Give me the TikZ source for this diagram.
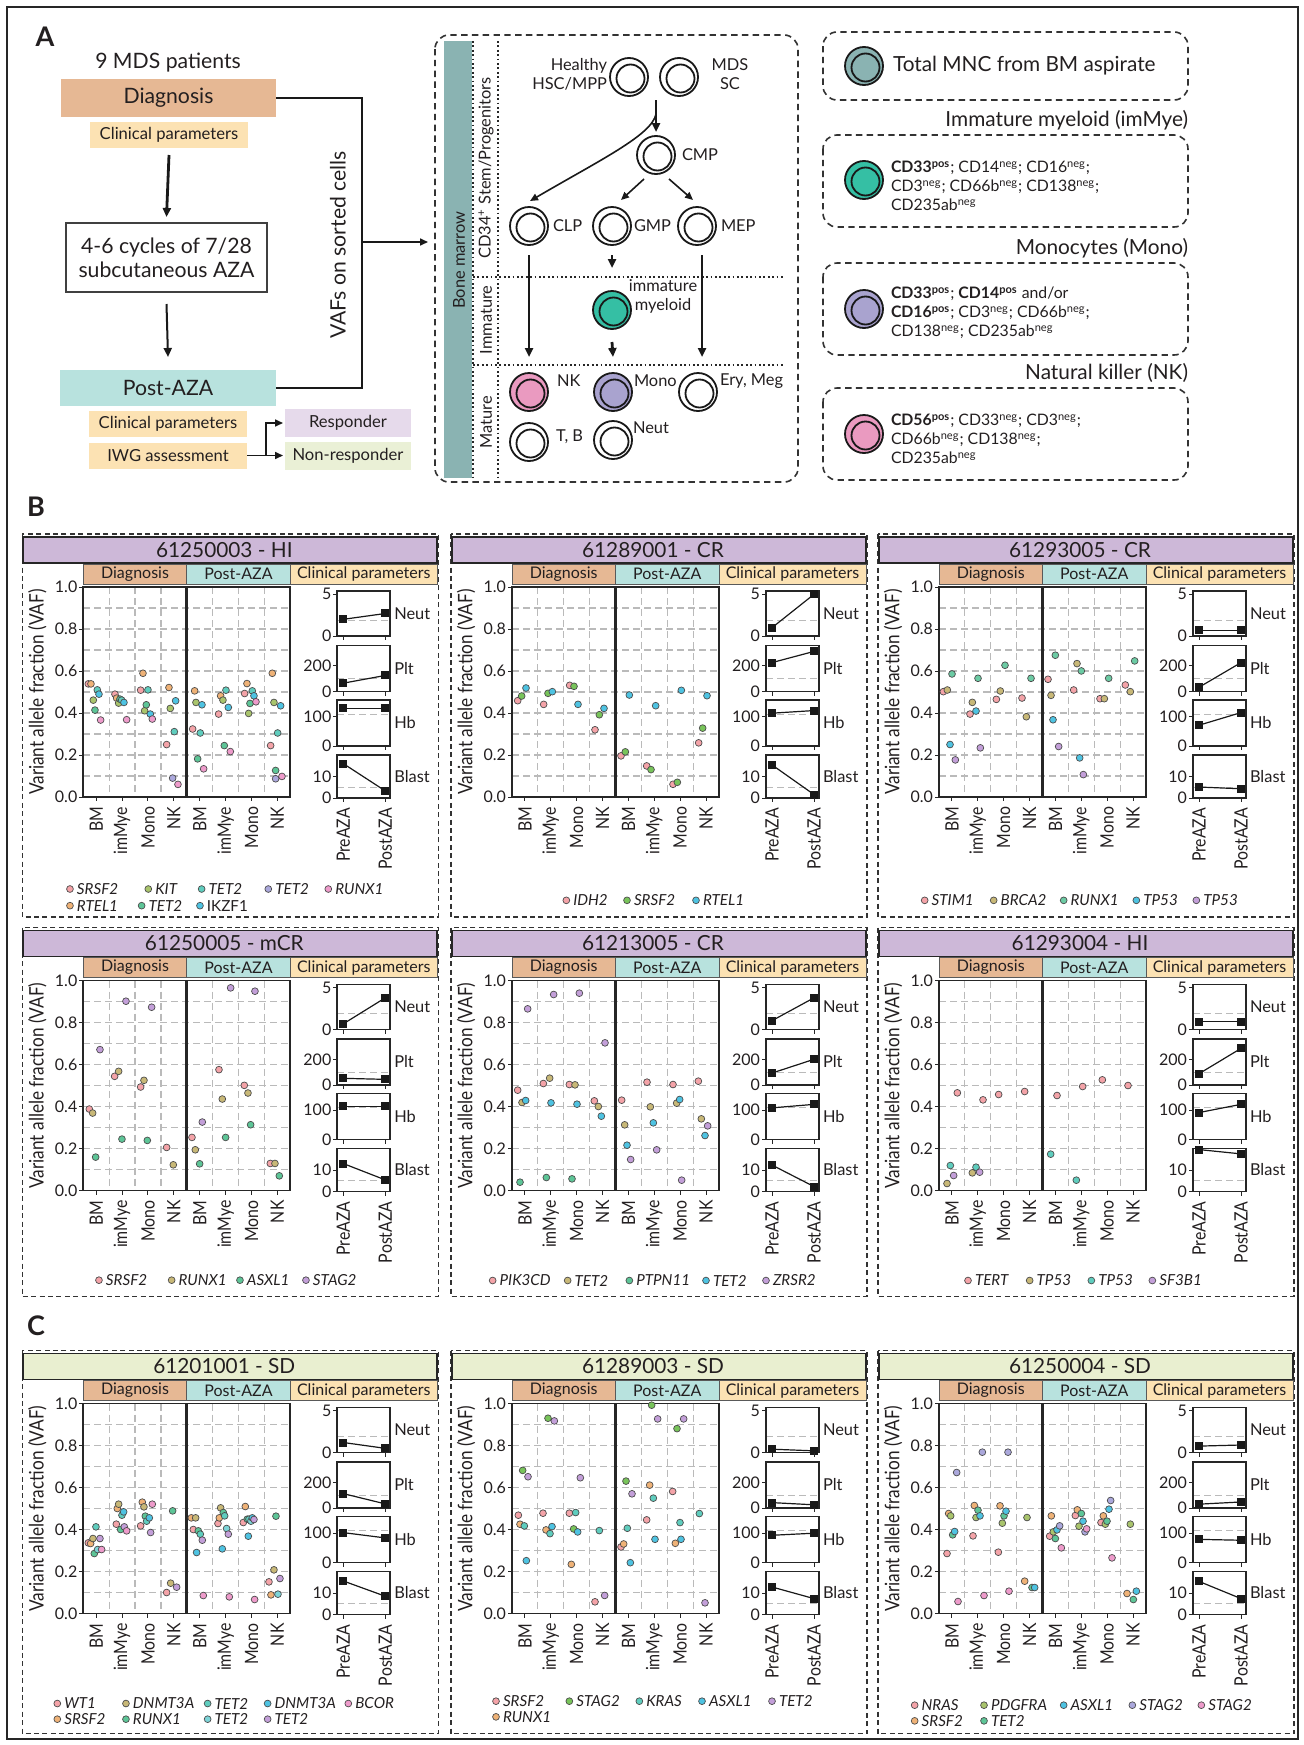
\documentclass[tikz,border=0pt]{standalone}
\usepackage{fontspec}
\setmainfont{Lato}
\usepackage{graphicx}
\usetikzlibrary{arrows.meta,calc}

\definecolor{txt}{HTML}{231F20}
\definecolor{diagC}{HTML}{E6B894}
\definecolor{postC}{HTML}{B8E2DE}
\definecolor{clinC}{HTML}{FCE2B3}
\definecolor{respC}{HTML}{E6DAEB}
\definecolor{nonrC}{HTML}{EAF0D6}
\definecolor{respT}{HTML}{CDB8D8}
\definecolor{nonrT}{HTML}{E9EFD0}
\definecolor{bmC}{HTML}{8AB3B2}
\definecolor{immC}{HTML}{35BFA4}
\definecolor{monoC}{HTML}{A9A3CF}
\definecolor{nkC}{HTML}{EA9AC0}
% gene colours
\definecolor{cSr}{HTML}{F4A3A8}
\definecolor{cOr}{HTML}{EFB277}
\definecolor{cOl}{HTML}{A9C46C}
\definecolor{cTa}{HTML}{C8B877}
\definecolor{cGr}{HTML}{5DC597}
\definecolor{cLg}{HTML}{78C45A}
\definecolor{cTe}{HTML}{5FCDBE}
\definecolor{cTl}{HTML}{7DD4D8}
\definecolor{cCy}{HTML}{4EC3E2}
\definecolor{cLv}{HTML}{C39FD9}
\definecolor{cLb}{HTML}{ABA8DC}
\definecolor{cMg}{HTML}{EE9BCB}
\definecolor{cRu}{HTML}{6CCBA4}

\newcommand\fsLbl{\fontsize{13.5}{14}\bfseries\selectfont}
\newcommand\fsA{\fontsize{10.6}{12}\selectfont}
\newcommand\fsAs{\fontsize{8.3}{10}\selectfont}
\newcommand\fsM{\fontsize{8.2}{9.5}\selectfont}
\newcommand\fsH{\fontsize{10.4}{12}\selectfont}
\newcommand\fsMk{\fontsize{7.9}{9.5}\selectfont}
\newcommand\fsTitle{\fontsize{10.4}{12}\selectfont}
\newcommand\fsStrip{\fontsize{8}{9}\selectfont}
\newcommand\fsTick{\fontsize{8}{9}\selectfont}
\newcommand\fsCat{\fontsize{9.2}{10}\selectfont}
\newcommand\fsYlab{\fontsize{10}{11}\selectfont}
\newcommand\fsClin{\fontsize{8.2}{9}\selectfont}
\newcommand\fsLeg{\fontsize{7.6}{9}\selectfont}
\newcommand\vsq[1]{\scalebox{0.86}[1]{#1}}
\newcommand\sneg{\textsuperscript{neg}}
\newcommand\spos{\textsuperscript{\bfseries pos}}

\tikzset{
  every node/.style={inner sep=0pt, outer sep=0pt, text=txt},
  pbox/.style={draw=black!80, line width=0.8pt, dash pattern=on 2.5pt off 1.7pt},
  rbox/.style={draw=black!80, line width=0.8pt, dash pattern=on 3.2pt off 2.2pt, rounded corners=7pt},
  gridl/.style={draw=black!27, line width=0.6pt, dash pattern=on 3.5pt off 2pt},
  frame/.style={draw=black!85, line width=0.9pt},
  strip/.style={draw=black!65, line width=0.5pt},
  tickl/.style={draw=black!85, line width=0.5pt},
  dotl/.style={draw=black!85, line width=0.7pt, dash pattern=on 0.9pt off 1.3pt},
  arrthick/.style={draw=black!90, line width=1.4pt, -{Triangle[length=4.5pt,width=4pt]}},
  arrmid/.style={draw=black!90, line width=1pt, -{Triangle[length=4.5pt,width=4pt]}},
  arrthin/.style={draw=black!90, line width=0.8pt, -{Triangle[length=4pt,width=3.5pt]}},
  conn/.style={draw=black!90, line width=0.9pt},
  cellc/.style={circle, draw=black!90, line width=0.9pt, minimum size=19pt},
}

% double-circle cell
\newcommand\cell[4]{\node[cellc, fill=#4] (#1) at (#2,#3) {};
  \draw[black!90, line width=0.9pt] ($(#1.center)+(1.5,1.5)$) circle[radius=14];}

% zoom-to-local transform
\newcommand\setz[3]{\def\zl{#1}\def\zt{#2}\def\zb{#3}}
\newcommand\vdot[3]{\filldraw[fill=#3, draw=black!70, line width=0.35pt]
  ({(#1-\zl)/3},{(#2-\zt)/(\zb-\zt)*210}) circle[radius=3.4];}
\newcommand\lgd[5]{\filldraw[fill=#3, draw=black!70, line width=0.35pt]
  ({(#1-\zl)/3},{(#2-\zt)/3}) circle[radius=3.4];
  \node[anchor=west, font=\fsLeg] (#5-lg-#1-#2) at ({(#1-\zl)/3+7},{(#2-\zt)/3}) {\itshape #4};}

% frame of a VAF panel (local origin = top-left of scatter plot)
\newcommand\vafframe[4]{%
  \draw[pbox] (-61,-53) rectangle (355,#4);
  \draw[fill=#3, draw=black!85, line width=0.9pt] (-60,-50) rectangle (354,-24);
  \node[font=\fsTitle] (#1-title) at (141,-37) {#2};
  \draw[strip, fill=diagC] (0,-23) rectangle (103.5,-3);
  \draw[strip, fill=postC] (103.5,-23) rectangle (207,-3);
  \draw[strip, fill=clinC] (207,-23) rectangle (354,-3);
  \node[font=\fsStrip] (#1-sd) at (51.75,-13) {Diagnosis};
  \node[font=\fsStrip] (#1-sp) at (155.25,-13) {Post-AZA};
  \node[font=\fsStrip] (#1-sc) at (280.5,-13) {Clinical parameters};
  \foreach \v in {1,...,9} \draw[gridl] (0,21*\v) -- (207,21*\v);
  \foreach \k in {1,2,3,5,6,7} \draw[gridl] (25.875*\k,0) -- (25.875*\k,210);
  \draw[frame] (0,0) rectangle (207,210);
  \draw[line width=1.4pt, black!85] (103.5,0) -- (103.5,210);
  \foreach \v/\l in {0/0.0,1/0.2,2/0.4,3/0.6,4/0.8,5/1.0} {
    \draw[tickl] (-4,210-42*\v) -- (0,210-42*\v);
    \node[anchor=east, font=\fsTick] (#1-y\v) at (-6,210-42*\v) {\l};}
  \foreach \cat [count=\ii from 0] in {BM,imMye,Mono,NK,BM,imMye,Mono,NK} {
    \draw[tickl] (25.875*\ii+12.94,210) -- (25.875*\ii+12.94,214);
    \node[rotate=90, anchor=east, font=\fsCat] (#1-c\ii) at (25.875*\ii+12.94,220) {\vsq{\cat}};}
  \node[rotate=90, font=\fsYlab] (#1-ylab) at (-46,105) {\vsq{Variant allele fraction (VAF)}};
  \node[rotate=90, anchor=east, font=\fsCat] (#1-pre) at (260,221) {\vsq{PreAZA}};
  \node[rotate=90, anchor=east, font=\fsCat] (#1-post) at (302,221) {\vsq{PostAZA}};
}

% one small clinical plot: id, top, bottom, scale, pre, post, ref, label, tick
\newcommand\clinbox[9]{%
  \draw[gridl] (254,{#3-#7*#4}) -- (307,{#3-#7*#4});
  \draw[line width=0.6pt, black!90] (260,{#3-#5*#4}) -- (302,{#3-#6*#4});
  \draw[frame] (254,#2) rectangle (307,#3);
  \fill[black!90] (260,{#3-#5*#4}) ++(-4,-4) rectangle ++(8,8);
  \fill[black!90] (302,{#3-#6*#4}) ++(-4,-4) rectangle ++(8,8);
  \draw[tickl] (250,#3) -- (254,#3);
  \draw[tickl] (250,{#3-#9*#4}) -- (254,{#3-#9*#4});
  \draw[tickl] (260,#3) -- (260,#3+4);
  \draw[tickl] (302,#3) -- (302,#3+4);
  \node[anchor=east,font=\fsTick] (#1-0) at (248,#3) {0};
  \node[anchor=east,font=\fsTick] (#1-t) at (248,{#3-#9*#4}) {#9};
  \node[anchor=west,font=\fsClin] (#1-l) at (311,{(#2+#3)/2}) {#8};
}
\newcommand\clinset[9]{% id, n1,n2,p1,p2,h1,h2,b1,b2
  \clinbox{#1n}{4}{49}{8.34}{#2}{#3}{1.9}{Neut}{5}
  \clinbox{#1p}{58.5}{104.5}{0.1285}{#4}{#5}{100}{Plt}{200}
  \clinbox{#1h}{113}{159}{0.293}{#6}{#7}{108}{Hb}{100}
  \clinbox{#1b}{168}{211}{2.15}{#8}{#9}{5}{Blast}{10}
}

\begin{document}
\begin{tikzpicture}[x=0.5pt,y=-0.5pt]
\useasboundingbox[fill=white] (0,0) rectangle (1304,1745);
\draw[black!85, line width=0.6pt] (7,7) rectangle (1298,1739);

%================ PANEL A left =================
\node[font=\fsLbl] (lblA) at (45,37) {A};
\node[font=\fsA] (mds9) at (168,63) {9 MDS patients};
\node[fill=diagC, minimum width=107.5pt, minimum height=19pt, font=\fsA] (diag) at (168.5,98) {Diagnosis};
\node[fill=clinC, minimum width=79pt, minimum height=13pt, font=\fsAs] (clin1) at (169,135) {Clinical parameters};
\node[draw=black!75, line width=0.7pt, minimum width=100.5pt, minimum height=34.5pt, align=center, font=\fsA] (cyc) at (166.5,257.5) {4-6 cycles of 7/28\\subcutaneous AZA};
\node[fill=postC, minimum width=108pt, minimum height=18pt, font=\fsA] (post) at (168,388) {Post-AZA};
\node[fill=clinC, minimum width=79pt, minimum height=13pt, font=\fsAs] (clin2) at (168,424) {Clinical parameters};
\node[fill=clinC, minimum width=79pt, minimum height=13pt, font=\fsAs] (iwg) at (168,455.5) {IWG assessment};
\node[fill=respC, minimum width=63pt, minimum height=14pt, font=\fsAs] (resp) at (348,423) {Responder};
\node[fill=nonrC, minimum width=63pt, minimum height=14pt, font=\fsAs] (nonr) at (348,455.5) {Non-responder};
\draw[arrthick] ($(clin1.south)+(0,7)$) -- ($(cyc.north)+(0,-6)$);
\draw[arrmid] ($(cyc.south)+(0,12)$) -- ($(post.north)+(0,-13)$);
\draw[arrthin] (iwg.east) -- ($(nonr.west)+(-2,0)$);
\coordinate (rsplit) at ($(iwg.east)!0.5!(nonr.west)$);
\draw[arrthin] (rsplit) |- ($(resp.west)+(-2,0)$);
\coordinate (vafj) at (362,242);
\draw[conn] (diag.east) -| (vafj) |- (post.east);
\coordinate (vafend) at (428,242);
\draw[arrthin] (vafj) -- (vafend);
\node[rotate=90, font=\fsA] (vaft) at (338,245) {VAFs on sorted cells};

%================ PANEL A middle =================
\draw[rbox] (435,35) rectangle (798,482);
\fill[bmC] (444,41) rectangle (472,478);
\node[rotate=90, font=\fsM] (bmlab) at (459,260) {Bone marrow};
\draw[dotl] (473,41) -- (473,478);
\draw[dotl] (498,41) -- (498,478);
\draw[dotl] (473,277) -- (783,277);
\draw[dotl] (473,365) -- (783,365);
\node[rotate=90, font=\fsM] (stemlab) at (486,168) {CD34\textsuperscript{+} Stem/Progenitors};
\node[rotate=90, font=\fsM] (immlab) at (486,320) {Immature};
\node[rotate=90, font=\fsM] (matlab) at (486,422) {Mature};

\cell{healthy}{629}{77}{white}
\cell{mdssc}{679}{77}{white}
\cell{cmp}{656}{155}{white}
\cell{clp}{529}{226}{white}
\cell{gmp}{612}{226}{white}
\cell{mep}{697}{226}{white}
\cell{imm}{612}{310}{immC}
\cell{nk}{529}{392}{nkC}
\cell{mono}{613}{392}{monoC}
\cell{ery}{698}{392}{white}
\cell{tb}{529}{442}{white}
\cell{neut}{613}{440}{white}

\node[anchor=east, align=right, font=\fsM] (hlab) at (607,74.5) {Healthy\\HSC/MPP};
\node[align=center, font=\fsM] (mlab) at (730,74.5) {MDS\\SC};
\node[anchor=west, font=\fsM] (cmplab) at (682,155) {CMP};
\node[anchor=west, font=\fsM] (clplab) at (553,226) {CLP};
\node[anchor=west, font=\fsM] (gmplab) at (634,226) {GMP};
\node[anchor=west, font=\fsM] (meplab) at (721,226) {MEP};
\node[align=center, font=\fsM] (immclab) at (663,296.5) {immature\\myeloid};
\node[anchor=west, font=\fsM] (nklab) at (557,381) {NK};
\node[anchor=west, font=\fsM] (monolab) at (634,381) {Mono};
\node[anchor=west, font=\fsM] (erylab) at (720,381) {Ery, Meg};
\node[anchor=west, font=\fsM] (tblab) at (556,437) {T, B};
\node[anchor=west, font=\fsM] (neutlab) at (633,428) {Neut};

\coordinate (hsplit) at (656,100);
\draw[arrthick] (hsplit) -- ($(cmp.north)+(0,-4)$);
\draw[arrthin] (656,114) .. controls (652,135) and (600,160) .. ($(clp.north)+(1,-6)$);
\draw[arrthin] ($(cmp)+(-12,24)$) -- ($(gmp)+(9,-26)$);
\draw[arrthin] ($(cmp)+(13,24)$) -- ($(mep)+(-4,-26)$);
\draw[arrthick] ($(clp)+(0,29)$) -- ($(nk)+(0,-35)$);
\draw[arrthick] ($(gmp)+(0,29)$) -- ($(imm)+(0,-42)$);
\draw[arrthick] ($(imm)+(0,32)$) -- ($(mono)+(0,-35)$);
\draw[arrthick] ($(mep)+(5,29)$) -- ($(ery)+(4,-35)$);

%================ PANEL A right =================
\draw[rbox] (823,32) rectangle (1188,100);
\cell{mnc}{864}{66}{bmC}
\node[anchor=west, font=\fsH] (mnclab) at (893,66) {Total MNC from BM aspirate};
\node[anchor=east, font=\fsH] (h2) at (1188,120) {Immature myeloid (imMye)};
\draw[rbox] (823,135) rectangle (1188,227);
\cell{immk}{864}{180}{immC}
\node[anchor=west, align=left, font=\fsMk] (mk2) at (891,186) {{\bfseries CD33}\spos; CD14\sneg; CD16\sneg;\\CD3\sneg; CD66b\sneg; CD138\sneg;\\CD235ab\sneg};
\node[anchor=east, font=\fsH] (h3) at (1188,248) {Monocytes (Mono)};
\draw[rbox] (823,263) rectangle (1188,355);
\cell{monok}{864}{309}{monoC}
\node[anchor=west, align=left, font=\fsMk] (mk3) at (891,313) {{\bfseries CD33}\spos; {\bfseries CD14}\spos{} and/or\\{\bfseries CD16}\spos; CD3\sneg; CD66b\sneg;\\CD138\sneg; CD235ab\sneg};
\node[anchor=east, font=\fsH] (h4) at (1188,373) {Natural killer (NK)};
\draw[rbox] (823,388) rectangle (1188,480);
\cell{nkk}{864}{434}{nkC}
\node[anchor=west, align=left, font=\fsMk] (mk4) at (891,439) {{\bfseries CD56}\spos; CD33\sneg; CD3\sneg;\\CD66b\sneg; CD138\sneg;\\CD235ab\sneg};

\node[font=\fsLbl] (lblB) at (36,507) {B};
\node[font=\fsLbl] (lblC) at (36,1326) {C};

%================ P1 =================
\begin{scope}[shift={(83.3,587)}]
\vafframe{P1}{61250003 - HI}{respT}{330}
\clinset{P1}{2.0}{2.7}{65}{125}{129}{129}{16}{3.3}
\setz{190}{172}{805}
\foreach \x/\y/\cc in {205/464/cSr,213/464/cOr,220/513/cOl,225/543/cGr,232/482/cTe,237/495/cCy,242/573/cMg,
285/495/cSr,290/507/cOr,296/522/cOl,300/510/cGr,305/513/cTe,312/520/cCy,320/572/cMg,
362/483/cSr,369/432/cOr,374/545/cOl,379/527/cGr,384/482/cTe,391/555/cCy,397/570/cMg,
440/647/cSr,447/475/cOr,451/538/cOl,458/748/cLb,463/608/cTe,467/515/cCy,474/767/cMg,
518/600/cSr,524/485/cOr,528/520/cOl,533/690/cGr,541/612/cTe,546/527/cCy,551/720/cMg,
596/555/cSr,602/500/cOr,609/513/cOl,613/650/cGr,618/483/cTe,625/535/cCy,631/668/cMg,
674/493/cSr,681/463/cOr,686/553/cOl,690/523/cGr,697/485/cTe,702/500/cCy,708/518/cMg,
752/650/cSr,757/432/cOr,762/520/cOl,767/725/cGr,767/750/cLb,773/612/cTe,782/530/cCy,786/743/cMg}
 {\vdot{\x}{\y}{\cc}}
\foreach \x/\y/\cc/\lab in {150/1078/cSr/SRSF2,385/1078/cOl/KIT,545/1078/cTe/TET2,745/1078/cLb/TET2,925/1078/cMg/RUNX1,
150/1128/cOr/RTEL1,365/1128/cGr/TET2,540/1128/cCy/{\upshape IKZF1}}
 {\lgd{\x}{\y}{\cc}{\lab}{P1}}
\end{scope}

%================ P2 =================
\begin{scope}[shift={(512,587)}]
\vafframe{P2}{61289001 - CR}{respT}{330}
\clinset{P2}{1.0}{5.0}{225}{312}{112}{121}{15.4}{1.6}
\setz{200}{170}{798}
\foreach \x/\y/\cc in {217/510/cSr,229/496/cLg,242/472/cCy,
295/521/cSr,308/488/cLg,321/483/cCy,
373/464/cSr,386/467/cLg,398/521/cCy,
449/597/cSr,462/552/cLg,476/533/cCy,
527/675/cSr,540/663/cLg,552/493/cCy,
604/705/cSr,617/716/cLg,631/525/cCy,
683/760/cSr,696/754/cLg,708/479/cCy,
760/636/cSr,772/592/cLg,785/495/cCy}
 {\vdot{\x}{\y}{\cc}}
\foreach \x/\y/\cc/\lab in {363/1110/cSr/IDH2,545/1110/cLg/SRSF2,752/1110/cCy/RTEL1}
 {\lgd{\x}{\y}{\cc}{\lab}{P2}}
\end{scope}

%================ P3 =================
\begin{scope}[shift={(939,587)}]
\vafframe{P3}{61293005 - CR}{respT}{330}
\clinset{P3}{0.68}{0.68}{33}{225}{71}{114}{5.1}{4.3}
\setz{198}{170}{798}
\foreach \x/\y/\cc in {211/483/cSr,223/478/cTa,237/430/cRu,231/641/cCy,247/687/cLv,
291/550/cSr,298/515/cTa,315/443/cRu,309/541/cCy,322/651/cLv,
370/506/cSr,382/481/cTa,396/404/cRu,
447/502/cSr,460/558/cTa,474/443/cRu,
525/446/cSr,534/494/cTa,547/374/cRu,540/567/cCy,557/647/cLv,
602/478/cSr,612/399/cTa,625/421/cRu,620/681/cCy,631/731/cLv,
681/504/cSr,694/504/cTa,707/443/cRu,
757/463/cSr,772/483/cTa,785/391/cRu}
 {\vdot{\x}{\y}{\cc}}
\foreach \x/\y/\cc/\lab in {155/1110/cSr/STIM1,362/1110/cTa/BRCA2,572/1110/cRu/RUNX1,790/1110/cCy/TP53,970/1110/cLv/TP53}
 {\lgd{\x}{\y}{\cc}{\lab}{P3}}
\end{scope}

%================ P4 =================
\begin{scope}[shift={(83.3,980.5)}]
\vafframe{P4}{61250005 - mCR}{respT}{316}
\clinset{P4}{0.68}{3.8}{52}{44}{113}{113}{13}{5.4}
\setz{190}{183}{812}
\foreach \x/\y/\cc in {208/568/cSr,218/580/cTa,227/712/cGr,240/390/cLv,
284/470/cSr,296/455/cTa,306/658/cGr,318/245/cLv,
362/502/cSr,372/482/cTa,382/662/cGr,395/263/cLv,
440/683/cSr,460/735/cTa,
516/653/cSr,526/690/cTa,539/732/cGr,547/607/cLv,
597/450/cSr,607/538/cTa,617/653/cGr,632/205/cLv,
673/497/cSr,684/520/cTa,692/615/cGr,705/215/cLv,
751/731/cSr,765/731/cTa,778/768/cGr}
 {\vdot{\x}{\y}{\cc}}
\foreach \x/\y/\cc/\lab in {237/1082/cSr/SRSF2,455/1082/cTa/RUNX1,660/1082/cGr/ASXL1,858/1082/cLv/STAG2}
 {\lgd{\x}{\y}{\cc}{\lab}{P4}}
\end{scope}

%================ P5 =================
\begin{scope}[shift={(512,980.5)}]
\vafframe{P5}{61213005 - CR}{respT}{316}
\clinset{P5}{1.06}{3.8}{93}{200}{108}{120}{12.3}{2.3}
\setz{203}{180}{810}
\foreach \x/\y/\cc in {220/509/cSr,227/785/cGr,233/546/cTa,244/540/cCy,250/265/cLv,
297/489/cSr,306/771/cGr,316/473/cTa,320/547/cCy,328/222/cLv,
375/492/cSr,383/775/cGr,392/493/cTa,398/551/cCy,405/218/cLv,
450/541/cSr,462/558/cTa,471/587/cCy,482/367/cLv,
532/539/cSr,541/613/cTa,548/674/cCy,559/717/cLv,
608/485/cSr,618/559/cTa,627/607/cCy,637/688/cLv,
686/492/cSr,697/548/cTa,706/537/cCy,712/779/cLv,
762/482/cSr,771/595/cTa,782/645/cCy,790/616/cLv}
 {\vdot{\x}{\y}{\cc}}
\foreach \x/\y/\cc/\lab in {145/1080/cSr/PIK3CD,370/1080/cTa/TET2,555/1080/cGr/PTPN11,785/1080/cCy/TET2,965/1080/cLv/ZRSR2}
 {\lgd{\x}{\y}{\cc}{\lab}{P5}}
\end{scope}

%================ P6 =================
\begin{scope}[shift={(939,980.5)}]
\vafframe{P6}{61293004 - HI}{respT}{316}
\clinset{P6}{0.93}{0.93}{88}{285}{92}{120}{19.5}{17.5}
\setz{203}{180}{810}
\foreach \x/\y/\cc in {227/789/cTa,237/735/cTe,247/765/cLv,258/517/cSr,
303/757/cTa,314/740/cTe,325/755/cLv,335/538/cSr,
382/522/cSr,460/513/cSr,
538/701/cTe,557/525/cSr,
615/779/cTe,634/498/cSr,
693/478/cSr,770/495/cSr}
 {\vdot{\x}{\y}{\cc}}
\foreach \x/\y/\cc/\lab in {290/1080/cSr/TERT,475/1080/cTa/TP53,660/1080/cTe/TP53,843/1080/cLv/SF3B1}
 {\lgd{\x}{\y}{\cc}{\lab}{P6}}
\end{scope}

%================ P7 =================
\begin{scope}[shift={(83.3,1403.5)}]
\vafframe{P7}{61201001 - SD}{nonrT}{330}
\clinset{P7}{1.2}{0.5}{112}{32}{102}{84}{15.6}{8.5}
\setz{190}{250}{880}
\foreach \x/\y/\cc in {205/668/cSr,212/670/cOr,219/655/cTa,223/700/cGr,228/620/cTe,233/688/cTl,240/655/cLv,245/688/cMg,
289/612/cSr,292/565/cOr,296/552/cTa,302/628/cGr,306/585/cTe,311/575/cCy,313/620/cLv,320/632/cMg,
362/617/cSr,367/546/cOr,372/560/cTa,376/588/cGr,380/603/cTe,388/593/cCy,392/637/cLv,397/552/cMg,
440/817/cSr,452/789/cTa,458/572/cGr,470/801/cLv,
514/593/cOr,520/628/cSr,527/593/cTa,530/697/cCy,535/632/cGr,541/642/cTe,547/660/cLv,550/826/cMg,
594/610/cSr,598/593/cOr,602/563/cTa,607/686/cCy,610/577/cGr,614/587/cTe,620/625/cTl,625/642/cLv,628/830/cMg,
670/607/cSr,676/559/cOr,682/597/cGr,685/648/cCy,687/597/cTe,693/603/cTl,697/593/cCy,702/598/cLv,704/838/cMg,
747/785/cSr,753/824/cOr,762/749/cTa,768/588/cGr,774/822/cTl,780/775/cLv}
 {\vdot{\x}{\y}{\cc}}
\foreach \x/\y/\cc/\lab in {112/1150/cSr/WT1,318/1150/cTa/DNMT3A,563/1150/cTe/TET2,743/1150/cCy/DNMT3A,985/1150/cMg/BCOR,
112/1197/cOr/SRSF2,318/1197/cGr/RUNX1,563/1197/cTl/TET2,743/1197/cLv/TET2}
 {\lgd{\x}{\y}{\cc}{\lab}{P7}}
\end{scope}

%================ P8 =================
\begin{scope}[shift={(512,1403.5)}]
\vafframe{P8}{61289003 - SD}{nonrT}{330}
\clinset{P8}{0.4}{0.2}{42}{25}{93}{100}{12.8}{7.4}
\setz{200}{252}{880}
\foreach \x/\y/\cc in {219/586/cSr,224/613/cOr,232/452/cLg,237/618/cTe,243/722/cCy,248/471/cLv,
293/580/cSr,302/630/cOr,308/296/cLg,314/641/cTe,320/620/cCy,327/304/cLv,
372/580/cSr,378/733/cOr,385/627/cLg,391/578/cTe,397/636/cCy,405/474/cLv,
449/845/cSr,462/632/cTe,478/826/cLv,
527/681/cSr,535/672/cOr,542/484/cLg,546/625/cTe,555/728/cCy,560/522/cLv,
604/600/cSr,613/496/cOr,619/257/cLg,624/535/cTe,629/658/cCy,637/298/cLv,
682/515/cSr,690/670/cOr,695/327/cLg,704/608/cTe,707/658/cCy,715/298/cLv,
762/581/cTe,779/848/cLv}
 {\vdot{\x}{\y}{\cc}}
\foreach \x/\y/\cc/\lab in {152/1145/cSr/SRSF2,372/1145/cLg/STAG2,582/1145/cTe/KRAS,770/1145/cCy/ASXL1,980/1145/cLv/TET2,
152/1192/cOr/RUNX1}
 {\lgd{\x}{\y}{\cc}{\lab}{P8}}
\end{scope}

%================ P9 =================
\begin{scope}[shift={(939,1403.5)}]
\vafframe{P9}{61250004 - SD}{nonrT}{330}
\clinset{P9}{0.77}{0.9}{30}{47}{79}{76}{15.4}{7.4}
\setz{203}{250}{880}
\foreach \x/\y/\cc in {227/700/cSr,232/580/cOr,238/587/cOl,244/644/cGr,250/634/cCy,256/457/cLb,260/844/cMg,
305/647/cSr,309/556/cOr,314/592/cOl,320/570/cGr,326/587/cCy,333/396/cLb,338/826/cMg,
381/696/cSr,386/557/cOr,393/609/cOl,398/587/cGr,404/573/cCy,410/396/cLb,413/813/cMg,
460/783/cOr,467/592/cOl,482/802/cGr,490/802/cCy,
535/648/cSr,540/587/cOr,546/635/cOl,552/655/cGr,557/629/cCy,565/617/cLb,570/683/cMg,
612/586/cSr,618/569/cOr,623/618/cOl,630/580/cGr,635/603/cCy,641/635/cLb,646/626/cMg,
689/607/cSr,696/587/cOr,702/612/cOl,707/603/cGr,713/567/cCy,718/541/cLb,722/713/cMg,
767/820/cOr,777/612/cOl,786/838/cGr,795/813/cCy}
 {\vdot{\x}{\y}{\cc}}
\foreach \x/\y/\cc/\lab in {130/1155/cSr/NRAS,338/1155/cOl/PDGFRA,577/1155/cCy/ASXL1,783/1155/cLb/STAG2,990/1155/cMg/STAG2,
130/1202/cOr/SRSF2,338/1202/cGr/TET2}
 {\lgd{\x}{\y}{\cc}{\lab}{P9}}
\end{scope}

\end{tikzpicture}
\end{document}
